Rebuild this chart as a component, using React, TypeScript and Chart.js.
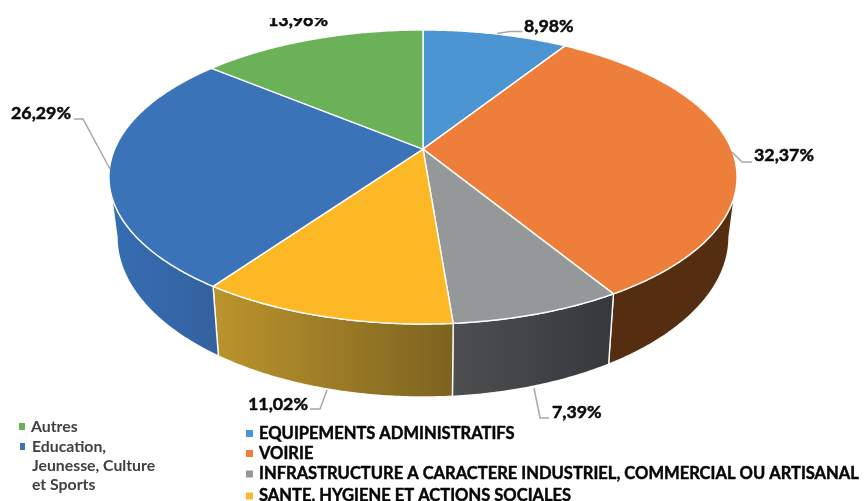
import React, { useEffect, useRef } from "react";
import { Chart, registerables } from "chart.js";

Chart.register(...registerables);

const categories = [
  "EQUIPEMENTS ADMINISTRATIFS",
  "VOIRIE",
  "INFRASTRUCTURE A CARACTERE INDUSTRIEL, COMMERCIAL OU ARTISANAL",
  "SANTE, HYGIENE ET ACTIONS SOCIALES",
  "Education, Jeunesse, Culture et Sports",
  "Autres",
];
const values = [8.98, 32.37, 7.39, 11.02, 26.29, 13.96];
const valueLabels = ["8,98%", "32,37%", "7,39%", "11,02%", "26,29%", "13,96%"];
const faceColors = ["#4b96d2", "#ed7f3a", "#959898", "#fdb825", "#3b73b9", "#6ab157"];
const wallStart = ["#2f5f8a", "#552e11", "#4c4e50", "#bb942c", "#366eb3", "#467a39"];
const wallEnd = ["#2f5f8a", "#552e11", "#36393b", "#7d6320", "#34619f", "#467a39"];

// Projection of the pie disc (layout only)
const TOP = { cx: 423, cy: 177, rx: 314, ry: 147 };
const BOTTOM = { cx: 423, cy: 237, rx: 306, ry: 160 };
const PERSP = -0.19;

// Label layout by slice: text anchor + leader polyline
const labelLayout = [
  { x: 524, y: 26, line: [[497, 33.5], [510, 31.5], [522, 31.5]] },
  { x: 754, y: 155, line: [[732, 152], [742, 162], [752, 162]] },
  { x: 552, y: 412, line: [[534, 388], [540, 418], [549, 418]] },
  { x: 248, y: 404, line: [[327, 390], [320, 409], [310, 409]] },
  { x: 11, y: 113, line: [[110, 169], [83, 119], [74, 119]] },
  { x: 268, y: 20, line: [] as number[][] },
];

function unit(angle: number) {
  const X = Math.cos(angle);
  const Y = Math.sin(angle);
  const d = 1 + PERSP * Y;
  return { u: (Math.sqrt(1 - PERSP * PERSP) * X) / d, v: (Y + PERSP) / d };
}
function onEllipse(e: typeof TOP, angle: number) {
  const p = unit(angle);
  return { x: e.cx + e.rx * p.u, y: e.cy + e.ry * p.v };
}

function heavyText(ctx: CanvasRenderingContext2D, text: string, x: number, y: number, weight: number) {
  ctx.lineWidth = weight;
  ctx.strokeStyle = ctx.fillStyle as string;
  ctx.lineJoin = "round";
  ctx.strokeText(text, x, y);
  ctx.fillText(text, x, y);
}

const pie3d = {
  id: "pie3d",
  beforeDatasetDraw(chart: any, args: any) {
    const ctx: CanvasRenderingContext2D = chart.ctx;
    const arcs = args.meta.data;
    const step = Math.PI / 360;
    const frontA = Math.asin(-PERSP);
    const frontB = Math.PI - frontA;

    ctx.save();
    ctx.lineJoin = "round";
    ctx.strokeStyle = "rgba(255,255,255,0.95)";
    ctx.lineWidth = 1.4;

    // Side walls: only the part of each slice on the front of the disc
    arcs.forEach((arc: any, i: number) => {
      const s = Math.max(arc.startAngle, frontA);
      const e = Math.min(arc.endAngle, frontB);
      if (e <= s) return;
      ctx.beginPath();
      const xs: number[] = [];
      for (let a = s; ; a += step) {
        const t = Math.min(a, e);
        const p = onEllipse(TOP, t);
        xs.push(p.x);
        if (a === s) ctx.moveTo(p.x, p.y);
        else ctx.lineTo(p.x, p.y);
        if (t === e) break;
      }
      for (let a = e; ; a -= step) {
        const t = Math.max(a, s);
        const p = onEllipse(BOTTOM, t);
        xs.push(p.x);
        ctx.lineTo(p.x, p.y);
        if (t === s) break;
      }
      ctx.closePath();
      const g = ctx.createLinearGradient(Math.min(...xs), 0, Math.max(...xs), 0);
      g.addColorStop(0, wallStart[i]);
      g.addColorStop(1, wallEnd[i]);
      ctx.fillStyle = g;
      ctx.fill();
      ctx.stroke();
    });

    // Top face
    arcs.forEach((arc: any) => {
      ctx.beginPath();
      ctx.moveTo(TOP.cx, TOP.cy + TOP.ry * PERSP);
      for (let a = arc.startAngle; ; a += step) {
        const t = Math.min(a, arc.endAngle);
        const p = onEllipse(TOP, t);
        ctx.lineTo(p.x, p.y);
        if (t === arc.endAngle) break;
      }
      ctx.closePath();
      ctx.fillStyle = arc.options.backgroundColor;
      ctx.fill();
      ctx.stroke();
    });
    ctx.restore();
    return false;
  },
  afterDatasetsDraw(chart: any) {
    const ctx: CanvasRenderingContext2D = chart.ctx;
    ctx.save();
    ctx.textBaseline = "middle";
    ctx.textAlign = "left";

    // Data labels & leaders
    valueLabels.forEach((text, i) => {
      const l = labelLayout[i];
      if (l.line.length) {
        ctx.strokeStyle = "#a6a6a6";
        ctx.lineWidth = 1.5;
        ctx.beginPath();
        l.line.forEach(([x, y], k) => (k ? ctx.lineTo(x, y) : ctx.moveTo(x, y)));
        ctx.stroke();
      }
      ctx.save();
      ctx.beginPath();
      ctx.rect(0, 18, 864, 483);
      ctx.clip();
      ctx.font = "bold 17.8px Lato";
      ctx.fillStyle = "#0a0a0a";
      heavyText(ctx, text, l.x, l.y, 0.5);
      ctx.restore();
    });

    // Right legend (indices 0-3)
    const rightY = [433.5, 453.5, 474, 496];
    rightY.forEach((y, k) => {
      ctx.fillStyle = faceColors[k];
      ctx.fillRect(246, y - 3.5, 7, 7);
      ctx.fillStyle = "#050505";
      ctx.font = "bold 16.55px Lato";
      heavyText(ctx, categories[k], 259, y, 0.45);
    });

    // Left legend
    ctx.font = "bold 15.8px Lato";
    ctx.fillStyle = faceColors[5];
    ctx.fillRect(19, 423, 6, 7);
    ctx.fillStyle = "#404040";
    ctx.fillText(categories[5], 31, 426.5);
    ctx.fillStyle = faceColors[4];
    ctx.fillRect(20, 443, 5, 7);
    ctx.fillStyle = "#404040";
    const wrapped = ["Education,", "Jeunesse, Culture", "et Sports"];
    [446.5, 466, 485].forEach((y, k) => ctx.fillText(wrapped[k], 32, y));
    ctx.restore();
  },
};

export default function App() {
  const ref = useRef<HTMLCanvasElement>(null);
  useEffect(() => {
    const chart = new Chart(ref.current as HTMLCanvasElement, {
      type: "pie",
      data: {
        labels: categories,
        datasets: [{ data: values, backgroundColor: faceColors, borderWidth: 0 }],
      },
      options: {
        responsive: false,
        animation: false,
        plugins: { legend: { display: false }, tooltip: { enabled: false } },
      },
      plugins: [pie3d],
    } as any);
    return () => chart.destroy();
  }, []);
  return (
    <div style={{ position: "fixed", left: 0, top: 0, width: 864, height: 501, overflow: "hidden", background: "#fff" }}>
      <canvas ref={ref} width={864} height={501} style={{ display: "block" }} />
    </div>
  );
}
